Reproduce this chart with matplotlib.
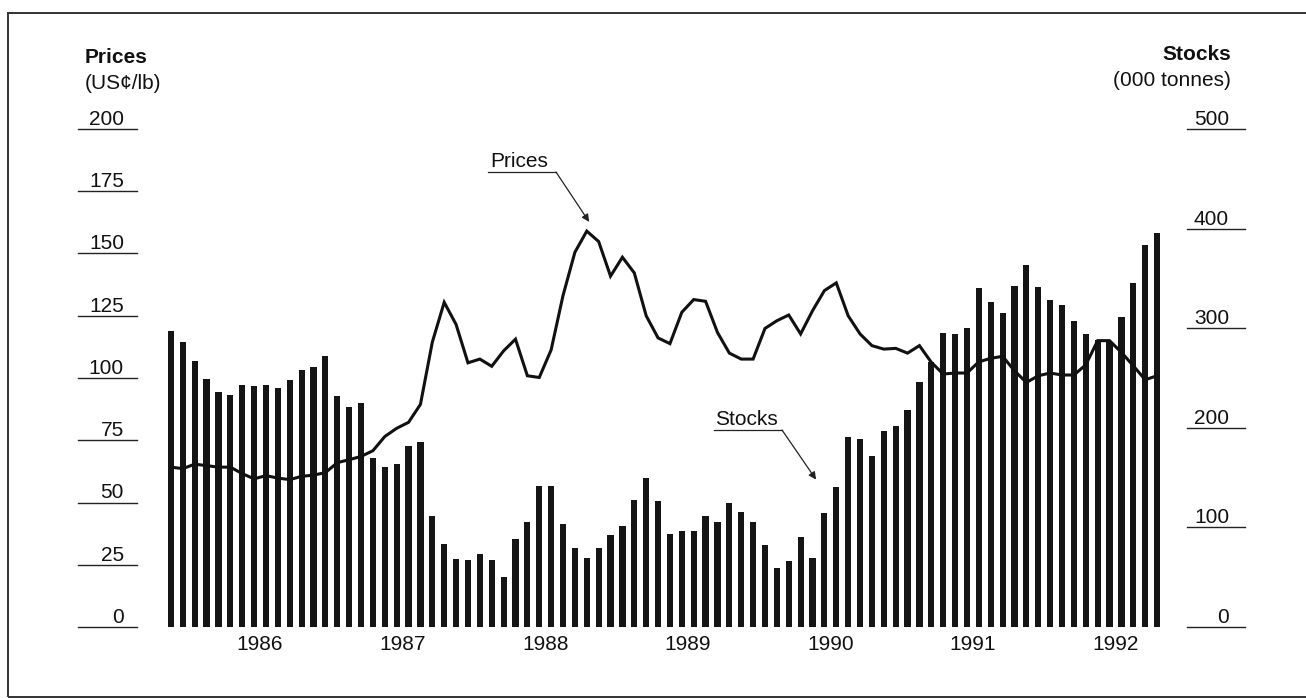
import matplotlib
matplotlib.use("Agg")
import matplotlib.pyplot as plt
from matplotlib.transforms import blended_transform_factory
import matplotlib.patches as mpatches
import matplotlib.lines as mlines
import pandas as pd

plt.rcParams['font.family'] = ['Liberation Sans', 'DejaVu Sans']

# ---------------- data (monthly, Nov 1985 - Oct 1992) ----------------
months = pd.period_range('1985-11', periods=84, freq='M')

stocks = [297, 286, 267, 249, 236, 233, 243, 242, 243, 240, 248, 258,
          261, 272, 232, 221, 225, 170, 161, 164, 182, 186, 111, 83,
          68, 67, 73, 67, 50, 88, 105, 142, 142, 103, 79, 69,
          79, 92, 101, 128, 150, 127, 93, 96, 96, 111, 105, 125,
          115, 105, 82, 59, 66, 90, 69, 114, 141, 191, 189, 172,
          197, 202, 218, 246, 266, 295, 294, 300, 340, 326, 315, 342,
          363, 341, 328, 323, 307, 294, 288, 286, 311, 345, 384, 396]

prices = [64.2, 63.6, 65.4, 64.8, 64.2, 64.2, 61.6, 59.5, 60.8, 59.8, 59.2, 60.5,
          61.0, 62.0, 66.0, 67.2, 68.5, 70.8, 76.5, 79.8, 82.2, 89.4, 114.4, 130.4,
          121.5, 106.1, 107.6, 104.7, 110.9, 115.6, 100.9, 100.2, 111.3, 133.1, 150.5, 159.0,
          154.8, 140.9, 148.5, 142.2, 125.0, 116.1, 113.8, 126.4, 131.5, 130.8, 118.3, 110.0,
          107.6, 107.6, 119.9, 123.0, 125.3, 117.7, 127.0, 135.1, 138.2, 125.0, 117.7, 113.0,
          111.6, 111.9, 110.0, 113.0, 106.3, 101.6, 102.0, 102.0, 106.5, 107.9, 108.7, 102.9,
          98.2, 100.9, 102.0, 101.2, 101.2, 105.3, 115.0, 115.0, 110.3, 104.9, 99.3, 100.9]

year_labels = ['1986', '1987', '1988', '1989', '1990', '1991', '1992']
price_ticks = [0, 25, 50, 75, 100, 125, 150, 175, 200]
stock_ticks = [0, 100, 200, 300, 400, 500]

# ---------------- figure ----------------
W, H = 1306, 698
fig = plt.figure(figsize=(W / 100, H / 100), dpi=100)
fig.patch.set_facecolor('white')

def fx(px):
    return px / W

def fy(py):
    return 1 - py / H

x = list(range(len(months)))
ax = fig.add_axes([fx(165), fy(627), (1163 - 165) / W, (627 - 129) / H])
ax.set_xlim(-0.5, len(months) - 0.5)
ax.set_ylim(0, 500)
ax.bar(x, stocks, width=0.52, color='#151515', edgecolor='none', zorder=2)
ax.axis('off')

ax2 = ax.twinx()
ax2.set_xlim(-0.5, len(months) - 0.5)
ax2.set_ylim(0, 200)
ax2.plot(x, prices, color='#111111', lw=2.2, solid_joinstyle='miter', zorder=3)
ax2.axis('off')

FS = 15

# year labels at mid-year
ty = blended_transform_factory(ax.transData, fig.transFigure)
for lab in year_labels:
    jan = [i for i, m in enumerate(months) if m.year == int(lab) and m.month == 1][0]
    ax.text(jan + 5.5, fy(645), lab, transform=ty,
            fontsize=FS, ha='center', va='center', color='#111')

# left (price) scale
tl = blended_transform_factory(fig.transFigure, ax2.transData)
for v in price_ticks:
    fig.add_artist(mlines.Line2D([fx(78), fx(137)], [v, v], color='#222', lw=1.0, transform=tl))
    ax2.annotate(str(v), xy=(fx(124), v), xycoords=tl, xytext=(0, 4),
                 textcoords='offset pixels', ha='right', va='baseline',
                 fontsize=FS, color='#111', annotation_clip=False)

# right (stock) scale
tr = blended_transform_factory(fig.transFigure, ax.transData)
for v in stock_ticks:
    fig.add_artist(mlines.Line2D([fx(1187), fx(1245)], [v, v], color='#222', lw=1.0,
                                 transform=tr))
    ax.annotate(str(v), xy=(fx(1229), v), xycoords=tr, xytext=(0, 4),
                textcoords='offset pixels', ha='right', va='baseline',
                fontsize=FS, color='#111', annotation_clip=False)

# axis headers
fig.text(fx(85), fy(63), 'Prices', fontsize=FS, fontweight='bold', ha='left', va='baseline', color='#111')
fig.text(fx(85), fy(89), '(US¢/lb)', fontsize=FS, ha='left', va='baseline', color='#111')
fig.text(fx(1231), fy(60), 'Stocks', fontsize=FS, fontweight='bold', ha='right', va='baseline', color='#111')
fig.text(fx(1231), fy(86), '(000 tonnes)', fontsize=FS, ha='right', va='baseline', color='#111')

# callouts
def callout(label, tx, ty_, ux0, ux1, uy, target_ax, tgt):
    fig.text(fx(tx), fy(ty_), label, fontsize=FS, ha='left', va='baseline', color='#111')
    fig.add_artist(mlines.Line2D([fx(ux0), fx(ux1)], [fy(uy), fy(uy)], color='#222', lw=0.9,
                                 transform=fig.transFigure))
    target_ax.annotate('', xy=tgt, xycoords='data', xytext=(fx(ux1), fy(uy)),
                       textcoords='figure fraction',
                       arrowprops=dict(arrowstyle='-|>', color='#222', lw=0.9,
                                       mutation_scale=11, shrinkA=0, shrinkB=0),
                       annotation_clip=False)

callout('Prices', 490, 167, 488, 556, 172, ax2, (35.2, 162.7))
callout('Stocks', 715, 425, 714, 782, 430, ax, (54.3, 148))

# frame
fig.add_artist(mpatches.Rectangle((fx(8), fy(697)), (W + 10) / W, (697 - 13) / H,
                                  transform=fig.transFigure, fill=False,
                                  edgecolor='#333', lw=1.4))

fig.savefig('out.png', dpi=100, facecolor='white')
